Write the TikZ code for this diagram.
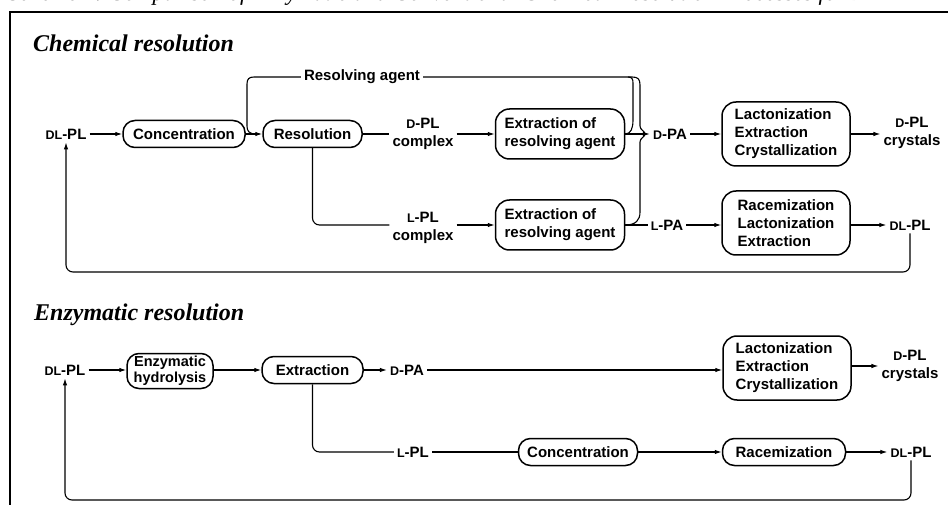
\documentclass[tikz,border=0pt]{standalone}
\usepackage{fontspec}
\setmainfont{Liberation Serif}
\setsansfont{Liberation Sans}
\usetikzlibrary{arrows.meta}
\newcommand{\sclet}[1]{{\fontsize{12.5pt}{12.5pt}\selectfont #1}}
\tikzset{
  every node/.style={font=\sffamily\bfseries\fontsize{15pt}{18pt}\selectfont, inner sep=3pt},
  lbl/.style={align=center},
  onebox/.style={draw, line width=1.5pt, rounded corners=12pt, minimum height=27pt, inner xsep=6pt},
  twobox/.style={draw, line width=1.5pt, rounded corners=14pt, minimum height=50pt, minimum width=129pt, align=left, inner xsep=8pt},
  threebox/.style={draw, line width=1.5pt, rounded corners=14pt, minimum height=64pt, minimum width=128pt, align=left, inner xsep=12pt},
  conn/.style={line width=1.1pt},
  arr/.style={conn, -{Latex[length=7pt,width=4.5pt]}},
  titletext/.style={font=\rmfamily\bfseries\itshape\fontsize{24pt}{24pt}\selectfont, anchor=base west, inner sep=0pt},
}
\begin{document}
\begin{tikzpicture}[x=1pt,y=-1pt]
\useasboundingbox (0,0) rectangle (948,505);
\clip (0,0) rectangle (948,505);

% cut caption and frame
\node[font=\rmfamily\itshape\fontsize{23pt}{23pt}\selectfont, anchor=base west, inner sep=0pt] (caption) at (8,1)
  {Scheme 2. Comparison of Enzymatic and Conventional Chemical Resolution Processes for \sclet{D}-PL};
\draw[line width=1.4pt] (10,505) -- (10,12) -- (948,12);

% ---------- Chemical resolution ----------
\node[titletext] (tchem) at (33,52) {Chemical resolution};

\node (dlplA) at (66,134) {\sclet{DL}-PL};
\node[onebox, minimum width=122pt] (concA) at (184,134) {Concentration};
\node[onebox, minimum width=99pt] (resA) at (312.5,134) {Resolution};
\node (ragent) at (362,77) {Resolving agent};
\node[lbl] (dplc) at (423,134) {\sclet{D}-PL\\complex};
\node[lbl] (lplc) at (423,228) {\sclet{L}-PL\\complex};
\node[twobox] (ext1) at (560,134) {Extraction of\\resolving agent};
\node[twobox] (ext2) at (560,225) {Extraction of\\resolving agent};
\node (dpa) at (670,134) {\sclet{D}-PA};
\node (lpa) at (667,225) {\sclet{L}-PA};
\node[threebox] (lacA) at (786,134) {Lactonization\\Extraction\\Crystallization};
\node[threebox] (racA) at (786,223) {Racemization\\Lactonization\\Extraction};
\node[lbl] (dplcr) at (912,133) {\sclet{D}-PL\\crystals};
\node (dlplB) at (910,225) {\sclet{DL}-PL};

\draw[arr] (dlplA) -- (concA);
\draw[arr] (concA) -- (resA);
\draw[conn] (resA) -- (dplc);
\draw[arr] (dplc) -- (ext1);
\draw[conn, rounded corners=7pt] (resA.south) |- (lplc.west |- 0,225);
\draw[arr] (lplc.east |- 0,225) -- (ext2);
\draw[arr] (ext1) -- (dpa);
\draw[conn] (ext2) -- (lpa);
\draw[arr] (dpa) -- (lacA);
\draw[arr] (lpa) -- (racA.west |- 0,225);
\draw[arr] (lacA) -- (dplcr.west |- 0,134);
\draw[arr] (racA.east |- 0,225) -- (dlplB);
\draw[arr, rounded corners=7pt] (dlplB.south) -- (dlplB.south |- 0,272) -- (dlplA.south |- 0,272) -- (dlplA.south);

% resolving agent recycle
\draw[conn] (ext2.east) .. controls (636,225) and (640,220) .. (640,212) -- (640,142)
  .. controls (640,138) and (645,137) .. (645,134) .. controls (645,131) and (640,130) .. (640,126)
  -- (640,85) .. controls (640,79) and (638,77) .. (632,77) -- (ragent.east);
\draw[conn] (ext1.east) .. controls (631,134) and (633,128) .. (633,120) -- (633,83)
  .. controls (633,79) and (632,77) .. (628,77);
\draw[conn] (ragent.west) -- (254,77) .. controls (249,77) and (247,79) .. (247,84) -- (247,126)
  .. controls (247,131) and (249,134) .. (256,134);

% ---------- Enzymatic resolution ----------
\node[titletext] (tenz) at (34,320) {Enzymatic resolution};

\node (dlplC) at (65,370) {\sclet{DL}-PL};
\node[draw, line width=1.5pt, rounded corners=12pt, minimum width=86pt, minimum height=35pt, inner sep=0pt, align=center,
      font=\sffamily\bfseries\fontsize{14.5pt}{16pt}\selectfont] (hyd) at (170,371) {Enzymatic\\hydrolysis};
\node[onebox, minimum width=101pt] (extE) at (312.5,370) {Extraction};
\node (dpaE) at (407,370) {\sclet{D}-PA};
\node[threebox] (lacE) at (787,368) {Lactonization\\Extraction\\Crystallization};
\node[lbl] (dplcrE) at (910,366) {\sclet{D}-PL\\crystals};
\node (lplE) at (413,452) {\sclet{L}-PL};
\node[onebox, minimum width=119pt] (concE) at (578,452) {Concentration};
\node[onebox, minimum width=123pt] (racE) at (784,452) {Racemization};
\node (dlplD) at (911,452) {\sclet{DL}-PL};

\draw[arr] (dlplC) -- (hyd.west |- 0,370);
\draw[arr] (hyd.east |- 0,370) -- (extE);
\draw[arr] (extE) -- (dpaE);
\draw[arr] (dpaE) -- (lacE.west |- 0,370);
\draw[arr] (lacE.east |- 0,366) -- (dplcrE);
\draw[conn, rounded corners=7pt] (extE.south) |- (lplE.west);
\draw[conn] (lplE) -- (concE);
\draw[arr] (concE) -- (racE);
\draw[arr] (racE) -- (dlplD);
\draw[arr, rounded corners=7pt] (dlplD.south) -- (dlplD.south |- 0,500) -- (dlplC.south |- 0,500) -- (dlplC.south);
\end{tikzpicture}
\end{document}
